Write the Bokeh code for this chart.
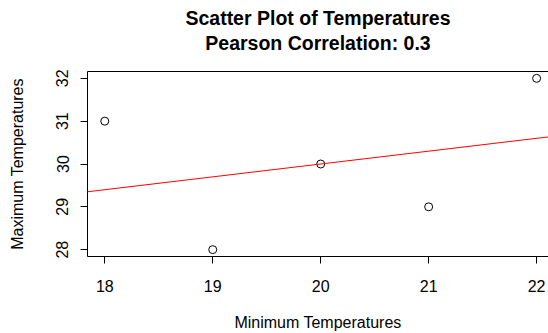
import numpy as np
from bokeh.plotting import figure
from bokeh.models import Range1d, FixedTicker, LinearAxis, Slope, Title
from bokeh.embed import file_html
from bokeh.resources import INLINE

min_temps = [18, 19, 20, 21, 22]
max_temps = [31, 28, 30, 29, 32]
x_ticks = [18, 19, 20, 21, 22]
y_ticks = [28, 29, 30, 31, 32]
x_label = "Minimum Temperatures"
y_label = "Maximum Temperatures"
title_line1 = "Scatter Plot of Temperatures"

r = np.corrcoef(min_temps, max_temps)[0, 1]
slope, intercept = np.polyfit(min_temps, max_temps, 1)
title_line2 = f"Pearson Correlation: {round(r, 2):g}"

FONT = "Liberation Sans"

xpad = 0.04 * (max(min_temps) - min(min_temps))
ypad = 0.04 * (max(max_temps) - min(max_temps))
x_start = min(min_temps) - xpad
y_start = min(max_temps) - ypad
y_end = max(max_temps) + ypad

p = figure(width=548, height=333, output_backend="svg", toolbar_location=None,
           x_range=Range1d(x_start, 22.11),
           y_range=Range1d(y_start, y_end),
           min_border_left=87, min_border_right=0, min_border_top=71, min_border_bottom=77,
           title=None)
p.outline_line_color = None
p.grid.visible = False
p.background_fill_color = "white"
p.border_fill_color = "white"

for ax in (p.xaxis[0], p.yaxis[0]):
    ax.axis_line_color = "black"
    ax.major_tick_line_color = "black"
    ax.minor_tick_line_color = None
    ax.major_tick_out = 7
    ax.major_tick_in = 0
    ax.major_label_text_font = FONT
    ax.major_label_text_font_size = "16px"
    ax.major_label_text_color = "black"
    ax.axis_label_text_font = FONT
    ax.axis_label_text_font_size = "16px"
    ax.axis_label_text_font_style = "normal"
    ax.axis_label_text_color = "black"

p.xaxis[0].ticker = FixedTicker(ticks=x_ticks)
p.yaxis[0].ticker = FixedTicker(ticks=y_ticks)
p.xaxis[0].axis_label = x_label
p.yaxis[0].axis_label = y_label
p.xaxis[0].major_label_standoff = 16
p.xaxis[0].axis_label_standoff = 19
p.yaxis[0].major_label_standoff = 12
p.yaxis[0].axis_label_standoff = 28
p.yaxis[0].major_label_orientation = "vertical"

# top edge of the box; its label carries the second title line
top = LinearAxis(ticker=FixedTicker(ticks=[]), axis_line_color="black",
                 major_tick_line_color=None, minor_tick_line_color=None,
                 major_tick_out=0, major_tick_in=0, major_label_standoff=0,
                 major_label_text_font_size="0px",
                 axis_label=title_line2, axis_label_standoff=18,
                 axis_label_text_font=FONT, axis_label_text_font_size="19.5px",
                 axis_label_text_font_style="bold", axis_label_text_color="black")
p.add_layout(top, "above")

p.add_layout(Title(text=title_line1, align="center", text_font=FONT,
                   text_font_size="19.5px", text_font_style="bold",
                   text_color="black", offset=3, standoff=0), "above")

p.add_layout(Slope(gradient=slope, y_intercept=intercept, line_color="red", line_width=1))

p.scatter(min_temps, max_temps, marker="circle", size=8, fill_color=None,
          line_color="black", line_width=1)

open("out.html", "w").write(file_html(p, INLINE))
